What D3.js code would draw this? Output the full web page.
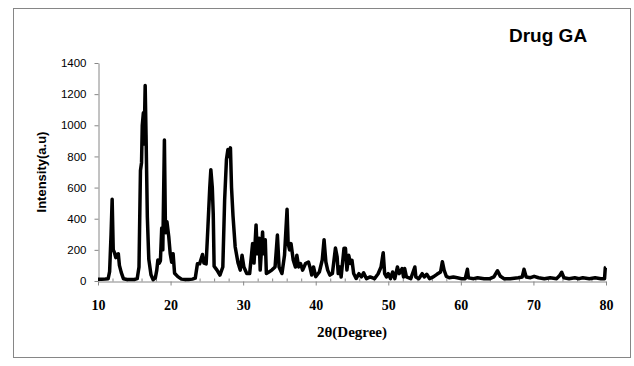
<!DOCTYPE html>
<html>
<head>
<meta charset="utf-8">
<script src="https://cdn.jsdelivr.net/npm/d3@7"></script>
<style>
  html, body { margin: 0; padding: 0; background: #fff; }
  svg { display: block; }
</style>
</head>
<body>
<svg id="chart" width="634" height="366"></svg>
<script>
// ---- data ----
const title = "Drug GA";
const xTitle = "2θ(Degree)";
const yTitle = "Intensity(a.u)";
const xTicks = [10, 20, 30, 40, 50, 60, 70, 80];
const yTicks = [0, 200, 400, 600, 800, 1000, 1200, 1400];
const theta = [
  10.0, 10.5, 11.0, 11.4, 11.6, 11.8, 11.95, 12.1, 12.25, 12.45, 12.6, 12.8, 12.95, 13.2, 13.5,
  14.0, 14.5, 15.0, 15.4, 15.65, 15.85, 16.0, 16.1, 16.25, 16.35, 16.5, 16.62, 16.8, 17.0, 17.3,
  17.6, 17.9, 18.1, 18.25, 18.45, 18.6, 18.78, 18.93, 19.15, 19.3, 19.5, 19.75, 19.95, 20.15, 20.35,
  20.55, 21.0, 21.5, 22.0, 22.5, 23.0, 23.4, 23.7, 24.0, 24.2, 24.4, 24.6, 24.9, 25.15, 25.4,
  25.55, 25.75, 25.88, 26.0, 26.4, 26.8, 27.2, 27.45, 27.7, 27.9, 28.05, 28.25, 28.4, 28.6, 28.9,
  29.3, 29.6, 29.85, 30.1, 30.5, 30.9, 31.3, 31.5, 31.78, 31.95, 32.2, 32.35, 32.68, 32.8, 33.05,
  33.2, 33.55, 33.95, 34.4, 34.72, 34.95, 35.35, 35.7, 36.05, 36.2, 36.4, 36.6, 36.9, 37.2, 37.4,
  37.65, 37.9, 38.2, 38.6, 39.0, 39.2, 39.45, 39.7, 40.0, 40.5, 40.9, 41.15, 41.4, 41.65, 41.95,
  42.3, 42.72, 42.95, 43.1, 43.33, 43.5, 43.9, 44.1, 44.3, 44.55, 44.8, 45.0, 45.23, 45.57, 45.96,
  46.3, 46.6, 47.0, 47.5, 48.1, 48.6, 49.0, 49.3, 49.5, 49.75, 50.0, 50.3, 50.6, 50.9, 51.26,
  51.5, 51.9, 52.1, 52.26, 52.5, 53.1, 53.66, 53.8, 54.2, 54.67, 54.95, 55.3, 55.7, 56.2, 56.7,
  57.2, 57.45, 57.7, 58.0, 58.4, 58.97, 59.5, 60.1, 60.6, 60.9, 61.05, 61.76, 62.3, 63.2, 64.0,
  64.55, 65.05, 65.45, 65.96, 66.8, 67.9, 68.46, 68.7, 69.0, 69.6, 70.1, 70.7, 71.5, 72.3, 73.2,
  73.65, 73.9, 74.2, 74.9, 75.7, 76.3, 76.8, 77.7, 78.5, 79.3, 79.8, 79.9, 80.0
];
const intensity = [
  12, 12, 13, 15, 60, 300, 525, 200, 185, 150, 170, 175, 100, 55, 15,
  10, 10, 10, 15, 90, 710, 760, 1000, 1080, 880, 1255, 940, 410, 140, 40,
  8, 20, 70, 135, 115, 130, 340, 200, 905, 310, 380, 285, 175, 120, 175,
  50, 28, 12, 10, 10, 12, 18, 110, 110, 140, 170, 115, 110, 350, 600,
  715, 600, 430, 95, 70, 38, 90, 520, 780, 845, 800, 855, 600, 420, 220,
  115, 70, 165, 90, 48, 48, 240, 115, 360, 175, 275, 70, 315, 175, 265,
  48, 58, 70, 90, 295, 90, 48, 165, 460, 240, 200, 240, 135, 90, 165,
  90, 112, 70, 112, 122, 90, 38, 90, 28, 58, 135, 265, 122, 70, 38,
  48, 212, 155, 48, 90, 26, 210, 210, 70, 165, 112, 133, 48, 16, 47,
  26, 52, 15, 26, 15, 47, 90, 182, 47, 26, 47, 15, 58, 15, 90,
  47, 80, 26, 80, 26, 15, 90, 26, 15, 47, 26, 43, 15, 26, 43,
  58, 124, 69, 30, 21, 26, 21, 15, 15, 75, 20, 15, 21, 15, 15,
  26, 66, 30, 15, 15, 21, 26, 75, 26, 21, 30, 21, 15, 21, 15,
  37, 56, 21, 15, 21, 15, 21, 15, 21, 15, 15, 85, 88
];

// ---- drawing ----
const svg = d3.select("#chart");
const axisColor = "#868686";

// outer frame
svg.append("rect")
  .attr("x", 13.5).attr("y", 8.5).attr("width", 617).attr("height", 349)
  .attr("fill", "none").attr("stroke", axisColor).attr("stroke-width", 1);

const x = d3.scaleLinear().domain([10, 80]).range([98, 606]);
const y = d3.scaleLinear().domain([0, 1400]).range([281, 63]);

// y axis
const gy = svg.append("g").attr("transform", "translate(98.5,0)")
  .call(d3.axisLeft(y).tickValues(yTicks).tickFormat(d3.format("d"))
    .tickSize(4).tickSizeOuter(0).tickPadding(8));
gy.select(".domain").attr("stroke", axisColor);
gy.selectAll(".tick line").attr("stroke", axisColor);
gy.selectAll(".tick text")
  .attr("font-family", "'Liberation Sans', Arial, sans-serif")
  .attr("font-size", "11.5px").attr("fill", "#000");

// x axis minor ticks (inside)
const minor = d3.range(12, 80, 2).filter(v => v % 10 !== 0);
const gxm = svg.append("g").attr("transform", "translate(0,281.5)")
  .call(d3.axisBottom(x).tickValues(minor).tickSize(-3).tickSizeOuter(0).tickFormat(""));
gxm.select(".domain").remove();
gxm.selectAll(".tick line").attr("stroke", axisColor);

// x axis
const gx = svg.append("g").attr("transform", "translate(0,281.5)")
  .call(d3.axisBottom(x).tickValues(xTicks).tickFormat(d3.format("d"))
    .tickSize(4).tickSizeOuter(0).tickPadding(15));
gx.select(".domain").attr("stroke", axisColor);
gx.selectAll(".tick line").attr("stroke", axisColor);
gx.selectAll(".tick text")
  .attr("font-family", "'Liberation Serif', 'Times New Roman', serif")
  .attr("font-weight", "bold").attr("font-size", "14px").attr("fill", "#000");

// pattern line
const pts = theta.map((t, i) => [t, intensity[i]]);
svg.append("path")
  .datum(pts)
  .attr("fill", "none").attr("stroke", "#000").attr("stroke-width", 3.5)
  .attr("stroke-linejoin", "round")
  .attr("d", d3.line().x(d => x(d[0])).y(d => y(d[1])));

// titles
svg.append("text")
  .attr("x", 509).attr("y", 42)
  .attr("font-family", "'Liberation Sans', Arial, sans-serif")
  .attr("font-weight", "bold").attr("font-size", "19px")
  .text(title);

svg.append("text")
  .attr("x", 352).attr("y", 337).attr("text-anchor", "middle")
  .attr("font-family", "'Liberation Serif', 'Times New Roman', serif")
  .attr("font-weight", "bold").attr("font-size", "15px")
  .text(xTitle);

svg.append("text")
  .attr("transform", "translate(46,172) rotate(-90)").attr("text-anchor", "middle")
  .attr("font-family", "'Liberation Sans', Arial, sans-serif")
  .attr("font-weight", "bold").attr("font-size", "13px")
  .text(yTitle);
</script>
</body>
</html>
